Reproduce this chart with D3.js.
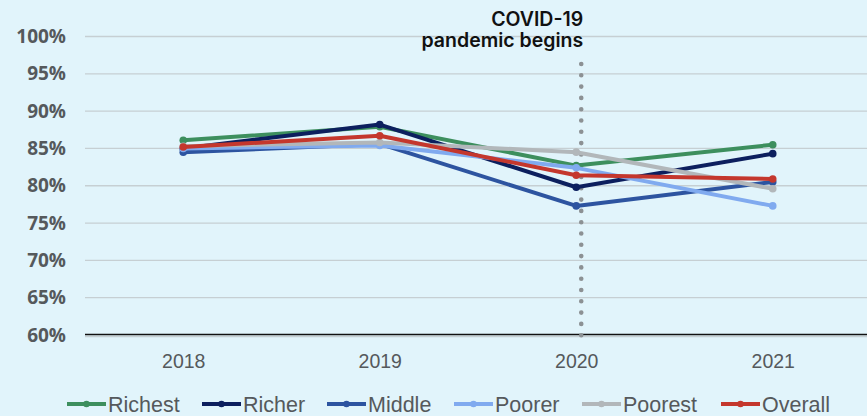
<!DOCTYPE html>
<html>
<head>
<meta charset="utf-8">
<script src="https://cdn.jsdelivr.net/npm/d3@7"></script>
<style>
  html, body { margin: 0; padding: 0; background: #e1f4fb; }
  svg { display: block; }
</style>
</head>
<body>
<svg id="chart" width="867" height="416"></svg>
<script>
// Survey years and the share recorded for each wealth group
const years = ["2018", "2019", "2020", "2021"];
const richest = [86.1, 87.9, 82.7, 85.5];
const richer  = [85.0, 88.2, 79.8, 84.3];
const middle  = [84.5, 85.6, 77.3, 80.5];
const poorer  = [85.0, 85.4, 82.4, 77.3];
const poorest = [85.3, 85.8, 84.5, 79.6];
const overall = [85.2, 86.7, 81.4, 80.9];
const yTicks = [60, 65, 70, 75, 80, 85, 90, 95, 100];
const seriesNames = ["Richest", "Richer", "Middle", "Poorer", "Poorest", "Overall"];
const seriesValues = [richest, richer, middle, poorer, poorest, overall];
const seriesColors = ["#3d8f5e", "#0c1f5e", "#2d54a0", "#80aaef", "#b2b7ba", "#c4372d"];
const eventYear = "2020";
const eventLines = ["COVID-19", "pandemic begins"];

const svg = d3.select("#chart");
const plotLeft = 85, plotRight = 871, plotTop = 36.5, plotBottom = 335;

const x = d3.scalePoint().domain(years).range([plotLeft, plotRight]).padding(0.5);
const y = d3.scaleLinear().domain([60, 100]).range([plotBottom, plotTop]);

// horizontal gridlines
svg.append("g")
  .selectAll("line")
  .data(yTicks)
  .join("line")
  .attr("x1", plotLeft).attr("x2", 867)
  .attr("y1", d => y(d) + (d === 60 ? 1.5 : 0)).attr("y2", d => y(d) + (d === 60 ? 1.5 : 0))
  .attr("stroke", "#c6cfd3").attr("stroke-width", 1.3);

// y axis labels
const yAxis = svg.append("g")
  .attr("transform", `translate(${plotLeft},0)`)
  .call(d3.axisLeft(y).tickValues(yTicks).tickFormat(d => d + "%").tickSize(0).tickPadding(19));
yAxis.select(".domain").remove();
yAxis.selectAll("text")
  .attr("font-family", "'Open Sans', sans-serif")
  .attr("font-weight", "bold")
  .attr("font-size", 19)
  .attr("fill", "#55595c");

// baseline axis
const xAxis = svg.append("g")
  .attr("transform", `translate(0,${plotBottom - 0.5})`)
  .call(d3.axisBottom(x).tickSize(0).tickPadding(20));
xAxis.select(".domain").attr("d", `M${plotLeft},0H867`).attr("stroke", "#111").attr("stroke-width", 1.5);
xAxis.selectAll("text")
  .attr("font-family", "'Liberation Sans', Arial, sans-serif")
  .attr("font-size", 19.5)
  .attr("fill", "#55595c");

// event marker line, set just to the right of its year
const eventX = x(eventYear) + 5;
svg.append("line")
  .attr("x1", eventX).attr("x2", eventX)
  .attr("y1", 64).attr("y2", plotBottom + 1)
  .attr("stroke", "#8c9194").attr("stroke-width", 4.6)
  .attr("stroke-linecap", "round")
  .attr("stroke-dasharray", "0 11.3");

svg.append("text")
  .attr("text-anchor", "end")
  .attr("font-family", "Inter, 'Open Sans', sans-serif")
  .attr("font-weight", 600)
  .attr("font-size", 19.5)
  .attr("fill", "#111")
  .selectAll("tspan")
  .data(eventLines)
  .join("tspan")
  .attr("x", eventX + 2)
  .attr("y", (d, i) => 26 + i * 21)
  .text(d => d);

// series lines and markers
const line = d3.line().x((d, i) => x(years[i])).y(d => y(d));
const groups = svg.append("g")
  .selectAll("g")
  .data(seriesValues.map((v, i) => ({ name: seriesNames[i], values: v, color: seriesColors[i] })))
  .join("g");
groups.append("path")
  .attr("d", d => line(d.values))
  .attr("fill", "none")
  .attr("stroke", d => d.color)
  .attr("stroke-width", 4)
  .attr("stroke-linejoin", "round");
groups.selectAll("circle")
  .data(d => d.values.map((v, i) => ({ v, i, color: d.color })))
  .join("circle")
  .attr("cx", d => x(years[d.i]))
  .attr("cy", d => y(d.v))
  .attr("r", 3.8)
  .attr("fill", d => d.color);

// legend
const legendX = [67, 202, 327, 454, 582, 721];
const legend = svg.append("g")
  .selectAll("g")
  .data(seriesNames.map((n, i) => ({ name: n, color: seriesColors[i], x: legendX[i] })))
  .join("g")
  .attr("transform", d => `translate(${d.x},404)`);
legend.append("line")
  .attr("x1", 0).attr("x2", 39)
  .attr("stroke", d => d.color).attr("stroke-width", 4);
legend.append("circle")
  .attr("cx", 19.5).attr("r", 3.3)
  .attr("fill", d => d.color);
legend.append("text")
  .attr("x", 41).attr("y", 0)
  .attr("dy", "0.36em")
  .attr("font-family", "'Liberation Sans', Arial, sans-serif")
  .attr("font-size", 21.5)
  .attr("fill", "#55595c")
  .text(d => d.name);
</script>
</body>
</html>
